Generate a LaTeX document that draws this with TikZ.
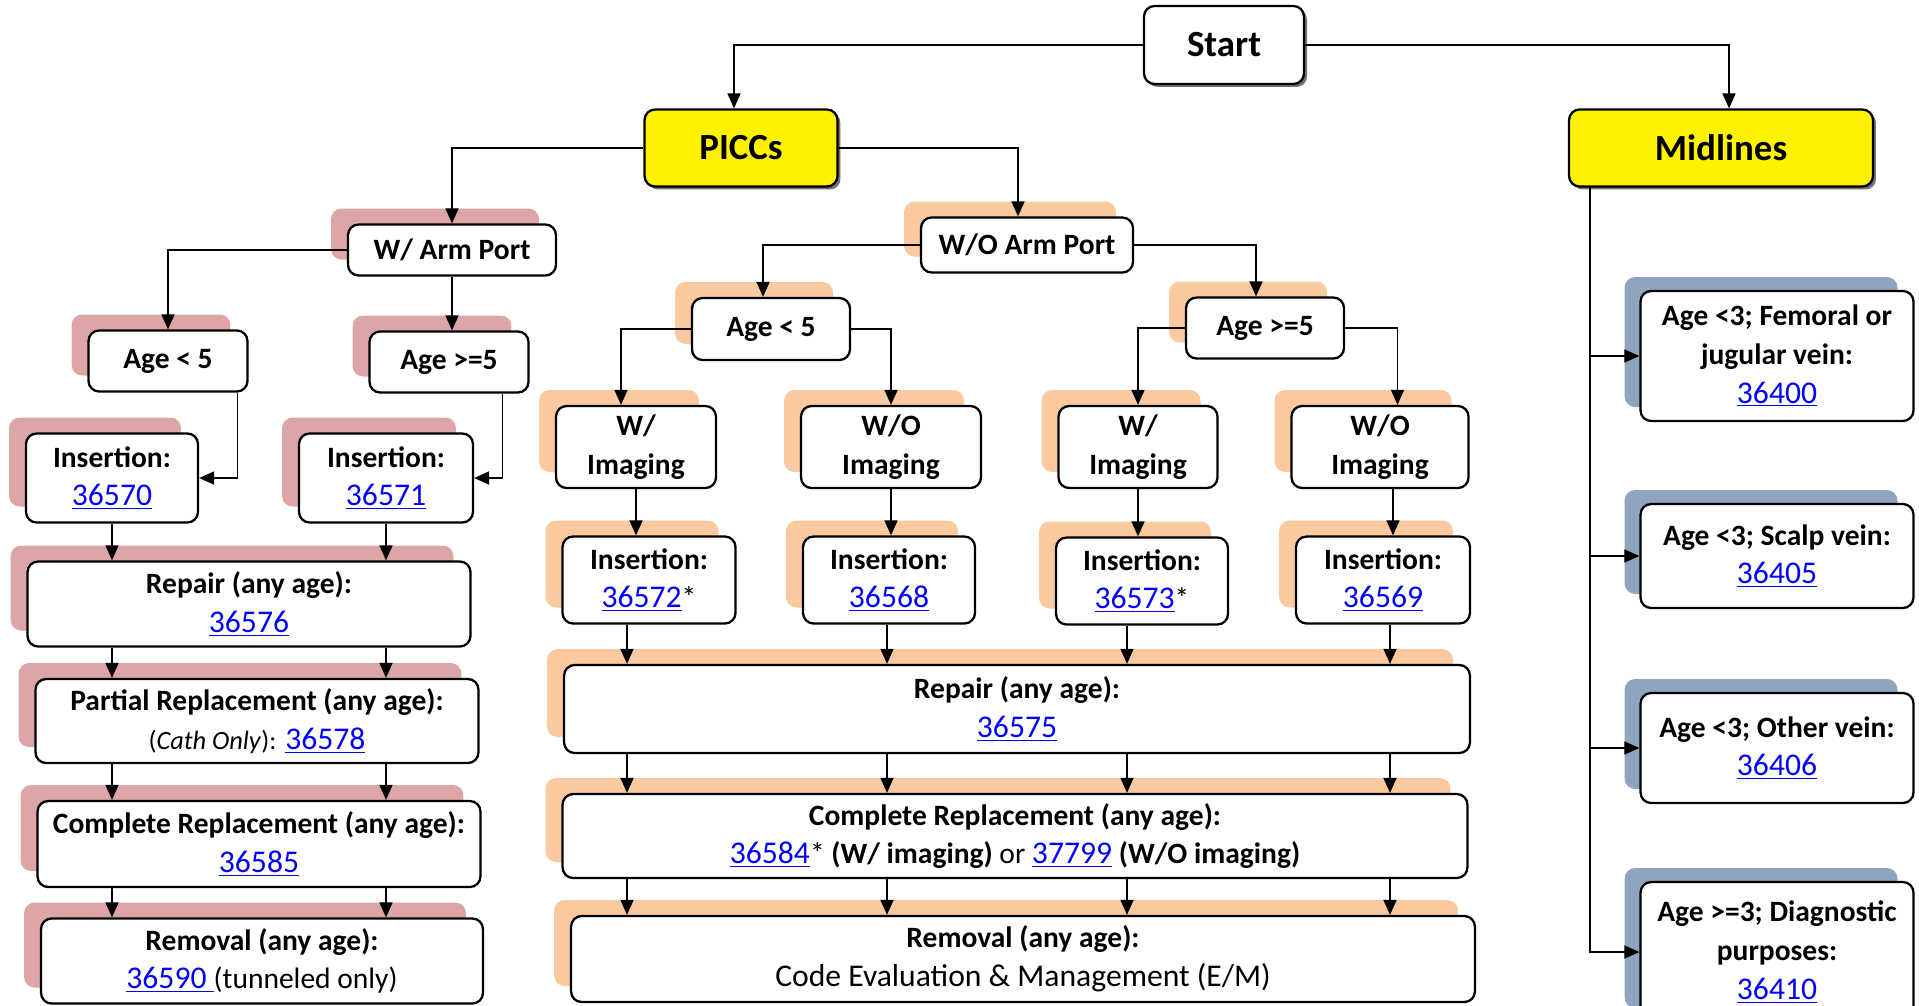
\documentclass[tikz,border=0pt]{standalone}
\usepackage{fontspec}
\setmainfont{Carlito}
\usepackage{tikz}
\usepackage{xcolor}
\usetikzlibrary{arrows.meta,shadows}
\definecolor{redsh}{HTML}{DDA6A6}
\definecolor{orsh}{HTML}{FAC9A0}
\definecolor{bluesh}{HTML}{8EA4BF}
\definecolor{linkblue}{HTML}{0000FF}
\newcommand{\code}[1]{{\mdseries\fontsize{18}{22}\selectfont\color{linkblue}\underline{#1}}}

\begin{document}
\begin{tikzpicture}[x=0.02cm, y=-0.02cm,
  box/.style={rectangle, rounded corners=6pt, draw, line width=1.3pt, fill=white, align=center, inner sep=2pt, font=\bfseries\fontsize{16.8}{22}\selectfont},
  topbox/.style={box, font=\bfseries\fontsize{21}{25}\selectfont, drop shadow={shadow xshift=0.06cm, shadow yshift=-0.06cm, fill=black!55, opacity=1}},
  redbox/.style={box, general shadow={fill=redsh, shadow xshift=-0.34cm, shadow yshift=0.32cm}},
  orbox/.style={box, general shadow={fill=orsh, shadow xshift=-0.34cm, shadow yshift=0.32cm}},
  bluebox/.style={box, general shadow={fill=bluesh, shadow xshift=-0.32cm, shadow yshift=0.28cm}},
  arr/.style={-{Triangle[length=0.3cm, width=0.26cm]}, line width=0.9pt}]
\useasboundingbox (0,0) rectangle (1919,1005);

\node[topbox, minimum width=3.2cm, minimum height=1.56cm] (start) at (1224,45) {Start};
\node[topbox, fill=yellow, minimum width=3.86cm, minimum height=1.54cm] (piccs) at (741,148) {PICCs};
\node[topbox, fill=yellow, minimum width=6.08cm, minimum height=1.54cm] (midl) at (1721,148) {Midlines};

\node[redbox, minimum width=4.16cm, minimum height=1.02cm] (warm) at (452,250) {W/ Arm Port};
\node[redbox, minimum width=3.18cm, minimum height=1.22cm] (age1) at (168,361) {Age < 5};
\node[redbox, minimum width=3.18cm, minimum height=1.22cm] (age2) at (449,362) {Age >=5};
\node[redbox, minimum width=3.44cm, minimum height=1.78cm] (ins1) at (112,478) {Insertion:\\\code{36570}};
\node[redbox, minimum width=3.48cm, minimum height=1.78cm] (ins2) at (386,478) {Insertion:\\\code{36571}};
\node[redbox, minimum width=8.86cm, minimum height=1.7cm] (rep1) at (249,604) {Repair (any age):\\\code{36576}};
\node[redbox, minimum width=8.86cm, minimum height=1.68cm] (part1) at (257,721) {Partial Replacement (any age):\\{\mdseries\fontsize{15}{22}\selectfont(\textit{Cath Only}):} \code{36578}};
\node[redbox, minimum width=8.86cm, minimum height=1.72cm] (comp1) at (259,844) {Complete Replacement (any age):\\\code{36585}};
\node[redbox, minimum width=8.84cm, minimum height=1.7cm] (rem1) at (262,961) {Removal (any age):\\\code{36590\ }{\mdseries(tunneled only)}};

\node[orbox, minimum width=4.24cm, minimum height=1.1cm] (woarm) at (1027,245) {W/O Arm Port};
\node[orbox, minimum width=3.16cm, minimum height=1.24cm] (age3) at (771,329) {Age < 5};
\node[orbox, minimum width=3.16cm, minimum height=1.22cm] (age4) at (1265,328) {Age >=5};
\node[orbox, minimum width=3.2cm, minimum height=1.64cm] (wimg1) at (636,447) {W/\\Imaging};
\node[orbox, minimum width=3.6cm, minimum height=1.64cm] (woimg1) at (891,447) {W/O\\Imaging};
\node[orbox, minimum width=3.18cm, minimum height=1.64cm] (wimg2) at (1138,447) {W/\\Imaging};
\node[orbox, minimum width=3.54cm, minimum height=1.64cm] (woimg2) at (1380,447) {W/O\\Imaging};
\node[orbox, minimum width=3.46cm, minimum height=1.74cm] (ins3) at (649,580) {Insertion:\\\code{36572}{\mdseries*}};
\node[orbox, minimum width=3.44cm, minimum height=1.74cm] (ins4) at (889,580) {Insertion:\\\code{36568}};
\node[orbox, minimum width=3.44cm, minimum height=1.74cm] (ins5) at (1142,581) {Insertion:\\\code{36573}{\mdseries*}};
\node[orbox, minimum width=3.48cm, minimum height=1.74cm] (ins6) at (1383,580) {Insertion:\\\code{36569}};
\node[orbox, minimum width=18.12cm, minimum height=1.76cm] (rep2) at (1017,709) {Repair (any age):\\\code{36575}};
\node[orbox, minimum width=18.1cm, minimum height=1.68cm] (comp2) at (1015,836) {Complete Replacement (any age):\\\code{36584}{\mdseries*} (W/ imaging) {\mdseries or} \code{37799} (W/O imaging)};
\node[orbox, minimum width=18.08cm, minimum height=1.72cm] (rem2) at (1023,959) {Removal (any age):\\{\mdseries\fontsize{18}{22}\selectfont Code Evaluation \& Management (E/M)}};

\node[bluebox, minimum width=5.46cm, minimum height=2.6cm] (mid1) at (1777,356) {Age <3; Femoral or\\jugular vein:\\\code{36400}};
\node[bluebox, minimum width=5.46cm, minimum height=2.08cm] (mid2) at (1777,556) {Age <3; Scalp vein:\\\code{36405}};
\node[bluebox, minimum width=5.46cm, minimum height=2.2cm] (mid3) at (1777,748) {Age <3; Other vein:\\\code{36406}};
\node[bluebox, minimum width=5.46cm, minimum height=2.8cm] (mid4) at (1777,952) {Age >=3; Diagnostic\\purposes:\\\code{36410}};

\coordinate (k1) at (627,0);
\coordinate (k2) at (887,0);
\coordinate (k3) at (1127,0);
\coordinate (k4) at (1390,0);
\coordinate (spine) at ([xshift=0.44cm]midl.south west);

\draw[arr] (start.west) -| ([xshift=-0.14cm]piccs.north);
\draw[arr] (start.east) -| ([xshift=0.16cm]midl.north);
\draw[arr] (piccs.west) -| (warm.north);
\draw[arr] (piccs.east) -| ([xshift=-0.18cm]woarm.north);

\draw[arr] (warm.west) -| (age1.north);
\draw[arr] (warm.south) -- (warm.south |- age2.north);
\draw[arr] ([xshift=-0.22cm]age1.south east) |- (ins1.east);
\draw[arr] ([xshift=-0.54cm]age2.south east) |- (ins2.east);
\foreach \n in {ins1,ins2} {
  \draw[arr] (\n.south) -- (\n.south |- rep1.north);
  \draw[arr] (rep1.south -| \n) -- (part1.north -| \n);
  \draw[arr] (part1.south -| \n) -- (comp1.north -| \n);
  \draw[arr] (comp1.south -| \n) -- (rem1.north -| \n);
}

\draw[arr] (woarm.west) -| ([xshift=-0.16cm]age3.north);
\draw[arr] (woarm.east) -| ([xshift=-0.18cm]age4.north);
\draw[arr] (age3.west) -| ([xshift=-0.3cm]wimg1.north);
\draw[arr] (age3.east) -| (woimg1.north);
\draw[arr] (age4.west) -| (wimg2.north);
\draw[arr] (age4.east) -| ([xshift=0.35cm]woimg2.north);
\draw[arr] (wimg1.south) -- (wimg1.south |- ins3.north);
\draw[arr] (woimg1.south) -- (woimg1.south |- ins4.north);
\draw[arr] (wimg2.south) -- (wimg2.south |- ins5.north);
\draw[arr] ([xshift=0.26cm]woimg2.south) -- ([xshift=0.26cm]woimg2.south |- ins6.north);
\foreach \n/\k in {ins3/k1,ins4/k2,ins5/k3,ins6/k4} {
  \draw[arr] (\n.south -| \k) -- (rep2.north -| \k);
  \draw[arr] (rep2.south -| \k) -- (comp2.north -| \k);
  \draw[arr] (comp2.south -| \k) -- (rem2.north -| \k);
}

\foreach \m in {mid1,mid2,mid3,mid4}
  \draw[arr] (spine) |- (\m.west);
\end{tikzpicture}
\end{document}
